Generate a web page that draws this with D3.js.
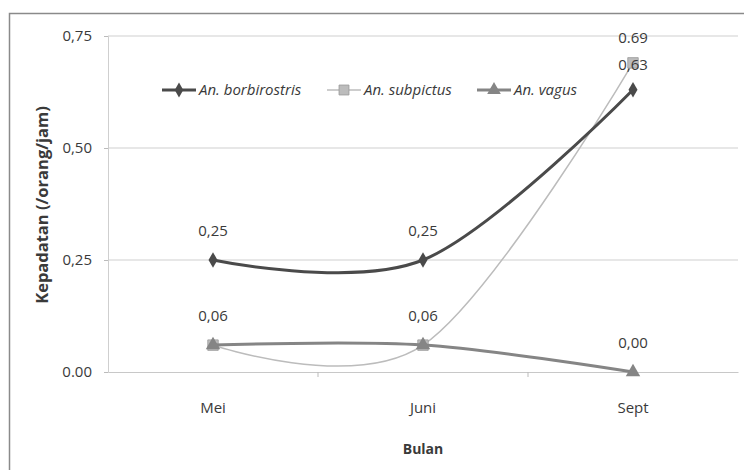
<!DOCTYPE html>
<html>
<head>
<meta charset="utf-8">
<script src="https://cdn.jsdelivr.net/npm/d3@7/dist/d3.min.js"></script>
<style>
  html, body { margin: 0; padding: 0; background: #fff; }
  svg { display: block; }
  text { font-family: "Open Sans", sans-serif; fill: #3a3a3a; }
</style>
</head>
<body>
<svg id="chart" width="744" height="470"></svg>
<script>
// Monthly mosquito density per species
const months = ["Mei", "Juni", "Sept"];
const borbirostris = [0.25, 0.25, 0.63];
const subpictus = [0.06, 0.06, 0.69];
const vagus = [0.06, 0.06, 0.00];
const borbirostrisLabels = ["0,25", "0,25", "0,63"];
const subpictusLabels = [null, null, "0.69"];
const vagusLabels = ["0,06", "0,06", "0,00"];
const yTicks = [0, 0.25, 0.5, 0.75];
const yTickLabels = ["0.00", "0,25", "0,50", "0,75"];

const series = [
  { name: "An. borbirostris", values: borbirostris, labels: borbirostrisLabels,
    color: "#4a4a4a", width: 3, symbol: d3.symbolDiamond, size: 70, legendX: 162 },
  { name: "An. subpictus", values: subpictus, labels: subpictusLabels,
    color: "#bcbcbc", width: 1.5, symbol: d3.symbolSquare, size: 110, legendX: 327 },
  { name: "An. vagus", values: vagus, labels: vagusLabels,
    color: "#858585", width: 3, symbol: d3.symbolTriangle, size: 90, legendX: 477 }
];

const svg = d3.select("#chart");
const plot = { left: 108, right: 738, top: 36, bottom: 372 };

const x = d3.scaleBand().domain(months).range([plot.left, plot.right]);
const y = d3.scaleLinear().domain([0, 0.75]).range([plot.bottom, plot.top]);
const cx = m => x(m) + x.bandwidth() / 2;

// outer frame (top and left edges visible)
svg.append("path")
  .attr("d", "M9.5,470 L9.5,13.5 L744,13.5")
  .attr("fill", "none").attr("stroke", "#8a8a8a").attr("stroke-width", 1.5);

// horizontal gridlines
svg.append("g").selectAll("line")
  .data(yTicks.filter(t => t > 0))
  .join("line")
  .attr("x1", plot.left).attr("x2", plot.right)
  .attr("y1", d => y(d)).attr("y2", d => y(d))
  .attr("stroke", "#cfcfcf").attr("stroke-width", 1);

// y axis
const yAxis = d3.axisLeft(y).tickValues(yTicks)
  .tickFormat((d, i) => yTickLabels[i]).tickSize(4).tickPadding(12);
const gy = svg.append("g").attr("transform", `translate(${plot.left},0)`).call(yAxis);
gy.select(".domain").attr("stroke", "#cfcfcf");
gy.selectAll(".tick line").attr("stroke", "#bbb");
gy.selectAll(".tick text").attr("font-size", 15).attr("fill", "#3a3a3a")
  .attr("font-family", "Open Sans, sans-serif");

// x axis
const xAxis = d3.axisBottom(x).tickSize(0).tickPadding(30);
const gx = svg.append("g").attr("transform", `translate(0,${plot.bottom})`).call(xAxis);
gx.select(".domain").attr("stroke", "#c8c8c8");
gx.selectAll(".tick text").attr("font-size", 15).attr("fill", "#3a3a3a")
  .attr("font-family", "Open Sans, sans-serif");
// category boundary ticks
gx.append("g").selectAll("line")
  .data(months.slice(1))
  .join("line")
  .attr("x1", d => x(d)).attr("x2", d => x(d))
  .attr("y1", 0).attr("y2", 5)
  .attr("stroke", "#bbb");

// axis titles
svg.append("text")
  .attr("x", cx("Juni")).attr("y", 454)
  .attr("text-anchor", "middle").attr("font-size", 14).attr("font-weight", "bold")
  .attr("fill", "#555").text("Bulan");
svg.append("text")
  .attr("transform", "translate(48,205) rotate(-90)")
  .attr("text-anchor", "middle").attr("font-size", 16.5).attr("font-weight", "bold")
  .attr("fill", "#555").text("Kepadatan (/orang/jam)");

// lines
const line = d3.line()
  .x((d, i) => cx(months[i]))
  .y(d => y(d))
  .curve(d3.curveCardinal.tension(0));

const draw = [series[1], series[2], series[0]];
draw.forEach(s => {
  svg.append("path")
    .datum(s.values)
    .attr("d", line)
    .attr("fill", "none")
    .attr("stroke", s.color)
    .attr("stroke-width", s.width);
  svg.append("g").selectAll("path")
    .data(s.values)
    .join("path")
    .attr("transform", (d, i) => `translate(${cx(months[i])},${y(d)})`)
    .attr("d", d3.symbol().type(s.symbol).size(s.size))
    .attr("fill", s.color)
    .attr("stroke", s.symbol === d3.symbolSquare ? "#999" : "none")
    .attr("stroke-width", 0.8);
});

// data labels
series.forEach(s => {
  svg.append("g").selectAll("text")
    .data(s.values.map((v, i) => ({ v, i, t: s.labels[i] })).filter(d => d.t))
    .join("text")
    .attr("x", d => cx(months[d.i]))
    .attr("y", d => y(d.v) - (d.v >= 0.5 ? 20 : 24))
    .attr("text-anchor", "middle").attr("font-size", 15).attr("fill", "#3a3a3a")
    .text(d => d.t);
});

// legend
const legendY = 90;
series.forEach(s => {
  const g = svg.append("g");
  g.append("line")
    .attr("x1", s.legendX).attr("x2", s.legendX + 34)
    .attr("y1", legendY).attr("y2", legendY)
    .attr("stroke", s.color).attr("stroke-width", s.width);
  g.append("path")
    .attr("transform", `translate(${s.legendX + 17},${legendY})`)
    .attr("d", d3.symbol().type(s.symbol).size(s.size * 0.9))
    .attr("fill", s.color)
    .attr("stroke", s.symbol === d3.symbolSquare ? "#999" : "none")
    .attr("stroke-width", 0.8);
  g.append("text")
    .attr("x", s.legendX + 37).attr("y", legendY + 5)
    .attr("font-size", 15).attr("font-style", "italic").attr("fill", "#3a3a3a")
    .text(s.name);
});
</script>
</body>
</html>
